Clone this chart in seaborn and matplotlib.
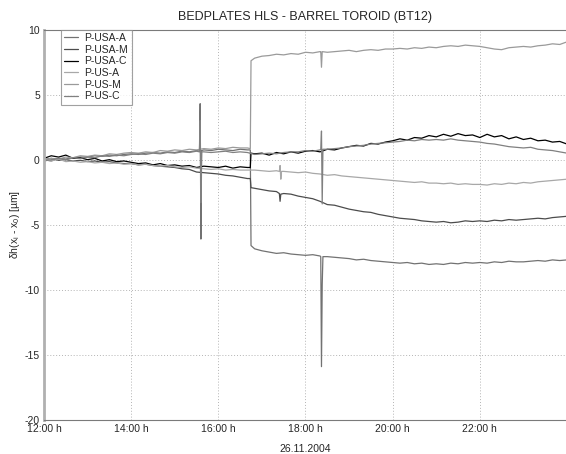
import numpy as np
import pandas as pd
import matplotlib
matplotlib.use("Agg")
import matplotlib.pyplot as plt
import seaborn as sns

# ---------------- data ----------------
TITLE = "BEDPLATES HLS - BARREL TOROID (BT12)"
DATE_LABEL = "26.11.2004"
SERIES = ["P-USA-A", "P-USA-M", "P-USA-C", "P-US-A", "P-US-M", "P-US-C"]
COLORS = ["#727272", "#4c4c4c", "#000000", "#a8a8a8", "#9a9a9a", "#808080"]
XTICKS = [12, 14, 16, 18, 20, 22]
XTICK_LABELS = ["12:00 h", "14:00 h", "16:00 h", "18:00 h", "20:00 h", "22:00 h"]
YTICKS = [-20, -15, -10, -5, 0, 5, 10]

# sampling every 10 minutes from 12:00 to 24:00 (73 samples)
grid_hours = np.linspace(12, 24, 73)

p_usa_a = [0.0, -0.1, 0.1, 0.05, 0.15, 0.2,
           0.2, 0.3, 0.25, 0.35, 0.3, 0.4,
           0.45, 0.4, 0.5, 0.55, 0.5, 0.6,
           0.55, 0.65, 0.6, 0.7, 0.75, 0.7,
           0.8, 0.75, 0.7, 0.8, 0.75, -6.85,
           -7.0, -7.1, -7.2, -7.15, -7.25, -7.3,
           -7.35, -7.3, -7.4, -7.45, -7.5, -7.55,
           -7.6, -7.7, -7.65, -7.75, -7.8, -7.85,
           -7.9, -7.95, -7.9, -8.0, -7.95, -8.05,
           -8.0, -8.05, -7.95, -8.0, -7.9, -7.95,
           -7.9, -7.95, -7.85, -7.9, -7.8, -7.85,
           -7.85, -7.8, -7.75, -7.8, -7.7, -7.75,
           -7.7]
p_usa_m = [0.0, 0.1, -0.05, 0.0, -0.1, -0.05,
           -0.15, -0.1, -0.2, -0.15, -0.25, -0.3,
           -0.3, -0.4, -0.35, -0.45, -0.5, -0.55,
           -0.6, -0.7, -0.75, -0.95, -1.0, -1.05,
           -1.1, -1.2, -1.25, -1.35, -1.45, -2.2,
           -2.3, -2.4, -2.45, -2.6, -2.65, -2.8,
           -2.9, -3.0, -3.2, -3.45, -3.5, -3.65,
           -3.8, -3.9, -4.0, -4.05, -4.2, -4.3,
           -4.4, -4.5, -4.55, -4.6, -4.7, -4.75,
           -4.8, -4.75, -4.85, -4.8, -4.7, -4.75,
           -4.7, -4.75, -4.65, -4.7, -4.6, -4.65,
           -4.6, -4.55, -4.5, -4.55, -4.45, -4.4,
           -4.35]
p_usa_c = [0.1, 0.3, 0.2, 0.35, 0.1, 0.15,
           0.0, 0.1, -0.1, 0.0, -0.15, -0.1,
           -0.2, -0.3, -0.25, -0.4, -0.3, -0.45,
           -0.4, -0.5, -0.45, -0.6, -0.5, -0.55,
           -0.6, -0.5, -0.65, -0.55, -0.6, 0.45,
           0.5, 0.35, 0.55, 0.45, 0.6, 0.5,
           0.65, 0.7, 0.6, 0.8, 0.75, 0.9,
           1.0, 1.1, 1.05, 1.25, 1.2, 1.35,
           1.45, 1.6, 1.5, 1.7, 1.65, 1.85,
           1.75, 1.95, 1.8, 2.0, 1.85, 1.9,
           1.7, 1.95, 1.75, 1.85, 1.6, 1.75,
           1.55, 1.65, 1.45, 1.5, 1.35, 1.4,
           1.2]
p_us_a = [0.0, -0.1, 0.05, -0.15, -0.1, -0.2,
          -0.15, -0.25, -0.2, -0.3, -0.25, -0.35,
          -0.3, -0.4, -0.35, -0.45, -0.5, -0.45,
          -0.55, -0.6, -0.55, -0.65, -0.7, -0.75,
          -0.7, -0.8, -0.75, -0.8, -0.8, -0.8,
          -0.85, -0.9, -0.85, -0.9, -0.95, -1.0,
          -0.95, -1.05, -1.1, -1.2, -1.15, -1.25,
          -1.3, -1.35, -1.4, -1.45, -1.5, -1.55,
          -1.6, -1.65, -1.7, -1.75, -1.7, -1.8,
          -1.8, -1.85, -1.8, -1.9, -1.85, -1.9,
          -1.9, -1.95, -1.85, -1.9, -1.8, -1.85,
          -1.75, -1.8, -1.7, -1.65, -1.6, -1.55,
          -1.5]
p_us_m = [0.0, 0.1, 0.05, 0.2, 0.15, 0.3,
          0.25, 0.35, 0.3, 0.45, 0.4, 0.5,
          0.55, 0.5, 0.6, 0.55, 0.7, 0.65,
          0.75, 0.7, 0.8, 0.75, 0.85, 0.8,
          0.9, 0.85, 0.95, 0.9, 0.9, 7.8,
          7.95, 8.0, 8.1, 8.05, 8.15, 8.1,
          8.25, 8.2, 8.3, 8.25, 8.3, 8.35,
          8.4, 8.3, 8.4, 8.45, 8.4, 8.5,
          8.5, 8.55, 8.5, 8.6, 8.55, 8.65,
          8.6, 8.7, 8.75, 8.7, 8.8, 8.75,
          8.7, 8.6, 8.5, 8.45, 8.6, 8.65,
          8.7, 8.65, 8.75, 8.8, 8.9, 8.85,
          9.05]
p_us_c = [-0.1, 0.0, 0.1, 0.0, 0.15, 0.1,
          0.2, 0.15, 0.3, 0.25, 0.35, 0.3,
          0.4, 0.45, 0.4, 0.5, 0.45, 0.55,
          0.5, 0.6, 0.55, 0.65, 0.6, 0.55,
          0.6, 0.65, 0.55, 0.6, 0.55, 0.4,
          0.45, 0.5, 0.45, 0.55, 0.6, 0.6,
          0.7, 0.65, 0.75, 0.8, 0.85, 0.9,
          1.0, 1.05, 1.1, 1.2, 1.25, 1.3,
          1.35, 1.4, 1.5, 1.45, 1.55, 1.5,
          1.55, 1.5, 1.6, 1.5, 1.45, 1.4,
          1.35, 1.25, 1.2, 1.1, 1.0, 0.95,
          0.9, 0.95, 0.8, 0.75, 0.7, 0.6,
          0.5]

# short events (steps and spikes) recorded at single minutes: (time, value)
ev_usa_a = [("15:34", 0.65), ("15:35", 4.3), ("15:36", -6.1), ("15:37", 0.7),
            ("16:44", 0.75), ("16:45", -6.6),
            ("18:21", -7.45), ("18:22", -15.9), ("18:23", -9.6), ("18:24", -7.45)]
ev_usa_m = [("16:44", -1.45), ("16:45", -2.15),
            ("17:24", -2.6), ("17:25", -3.2), ("17:26", -2.65)]
ev_usa_c = [("16:44", -0.6), ("16:45", 0.5)]
ev_us_a = [("17:24", -0.9), ("17:25", -0.45), ("17:26", -1.5), ("17:27", -0.9)]
ev_us_m = [("16:44", 0.85), ("16:45", 7.6),
           ("18:21", 8.3), ("18:22", 7.1), ("18:23", 8.3)]
ev_us_c = [("15:34", 0.6), ("15:35", 3.0), ("15:36", -3.3), ("15:37", 0.6),
           ("18:21", 0.8), ("18:22", 2.2), ("18:23", -3.4), ("18:24", 0.8)]

# ---------------- build long table ----------------
values = [p_usa_a, p_usa_m, p_usa_c, p_us_a, p_us_m, p_us_c]
events = [ev_usa_a, ev_usa_m, ev_usa_c, ev_us_a, ev_us_m, ev_us_c]

def to_hours(s):
    h, m = s.split(":")
    return int(h) + int(m) / 60.0

frames = []
for name, vals, evs in zip(SERIES, values, events):
    t = list(grid_hours) + [to_hours(s) for s, _ in evs]
    v = list(vals) + [val for _, val in evs]
    frames.append(pd.DataFrame({"time": t, "value": v, "sensor": name}))
df = pd.concat(frames, ignore_index=True)

# ---------------- plot ----------------
sns.set_style("white")
plt.rcParams["font.family"] = ["Liberation Sans", "DejaVu Sans"]
plt.rcParams["mathtext.fontset"] = "custom"
plt.rcParams["mathtext.rm"] = "Liberation Sans"
plt.rcParams["mathtext.it"] = "Liberation Sans"

fig = plt.figure(figsize=(5.66, 4.54), dpi=100)
ax = fig.add_axes([44 / 566, 1 - 420 / 454, 523 / 566, (420 - 29.5) / 454])

for name, col in zip(SERIES, COLORS):
    sub = df[df["sensor"] == name]
    sns.lineplot(data=sub, x="time", y="value", ax=ax, color=col, lw=0.9,
                 estimator=None, sort=True, label=name)

ax.set_xlim(12, 24)
ax.set_ylim(-20, 10)
ax.set_xticks(XTICKS)
ax.set_xticklabels(XTICK_LABELS)
ax.set_yticks(YTICKS)
ax.set_yticklabels([str(v) for v in YTICKS])
ax.grid(True, linestyle=(0, (1, 2)), color="#b4b4b4", linewidth=0.7)
ax.tick_params(axis="both", direction="in", length=3, width=0.6, color="#808080",
               labelsize=7.5, pad=3)
for side in ["top", "bottom", "right"]:
    ax.spines[side].set_color("#7a7a7a")
    ax.spines[side].set_linewidth(0.8)
ax.spines["left"].set_color("#b0b0b0")
ax.spines["left"].set_linewidth(2.0)

ax.set_title(TITLE, fontsize=9, pad=7)
ax.set_xlabel(DATE_LABEL, fontsize=7.5, labelpad=7)
ax.set_ylabel("δh(x$_i$ - x$_0$) [µm]", fontsize=7.5, labelpad=2)

leg = ax.legend(loc="upper left", bbox_to_anchor=(0.032, 1.0), fontsize=7.5,
                frameon=True, fancybox=False, handlelength=1.3, handletextpad=0.6,
                labelspacing=0.16, borderpad=0.35, borderaxespad=0.0)
leg.get_frame().set_edgecolor("#8a8a8a")
leg.get_frame().set_linewidth(0.8)
for line in leg.get_lines():
    line.set_linewidth(0.9)

fig.savefig("out.png", dpi=100)
